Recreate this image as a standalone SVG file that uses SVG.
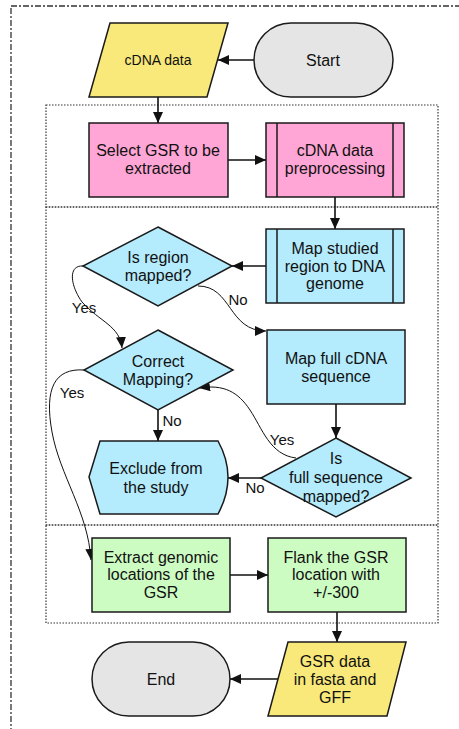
<svg xmlns="http://www.w3.org/2000/svg" width="459" height="729" viewBox="0 0 459 729">
  <style>
    text { font-family: "Liberation Sans", Arial, sans-serif; font-size: 16px; fill: #111; text-anchor: middle; }
    .lbl { font-size: 15px; }
    .shape { stroke: #1a1a1a; stroke-width: 1.5; }
    .term { fill: #e5e5e5; }
    .io { fill: #f9e87a; }
    .pink { fill: #ffa6d6; }
    .blue { fill: #b4ebfd; }
    .green { fill: #cdfcc3; }
    .frame { fill: none; stroke: #333; stroke-width: 1.3; stroke-dasharray: 6 2 2 2; }
    .panel { fill: none; stroke: #333; stroke-width: 1.2; stroke-dasharray: 1.5 1.5; }
    .edge { fill: none; stroke: #111; stroke-width: 1.6; marker-end: url(#arrow); }
    .curve { fill: none; stroke: #111; stroke-width: 1; marker-end: url(#arrow); }
  </style>
  <defs>
    <marker id="arrow" markerUnits="userSpaceOnUse" markerWidth="12" markerHeight="10" refX="11" refY="5" orient="auto">
      <path d="M0,0 L11,5 L0,10 Z" fill="#111"/>
    </marker>
  </defs>

  <rect width="459" height="729" fill="#fff"/>

  <!-- outer frame and panels -->
  <rect class="frame" x="11" y="6" width="470" height="740"/>
  <rect class="panel" x="46" y="105" width="392" height="102"/>
  <rect class="panel" x="46" y="207" width="392" height="318"/>
  <rect class="panel" x="46" y="525" width="392" height="98"/>

  <!-- connectors -->
  <g id="connectors">
    <line class="edge" x1="254" y1="60" x2="218" y2="60"/>
    <line class="edge" x1="158" y1="97" x2="158" y2="123"/>
    <line class="edge" x1="228" y1="160" x2="266" y2="160"/>
    <line class="edge" x1="335" y1="197" x2="335" y2="229"/>
    <line class="edge" x1="266" y1="266" x2="232" y2="266"/>
    <path class="curve" d="M83,266 C68,265 70,285 82,302 C100,322 120,326 122,348"/>
    <path class="curve" d="M198,286 C232,286 228,331 266,331"/>
    <line class="edge" x1="336" y1="404" x2="336" y2="438"/>
    <line class="edge" x1="261" y1="478" x2="228" y2="478"/>
    <path class="curve" d="M296,458 C270,455 262,428 250,410 C238,392 224,384 199,388"/>
    <line class="edge" x1="158" y1="410" x2="158" y2="441"/>
    <path class="curve" d="M84,370 C55,368 44,388 52,432 C60,476 88,512 91,560"/>
    <line class="edge" x1="230" y1="575" x2="268" y2="575"/>
    <line class="edge" x1="337" y1="612" x2="337" y2="642"/>
    <line class="edge" x1="278" y1="679" x2="230" y2="679"/>
    <text class="lbl" x="84" y="313">Yes</text>
    <text class="lbl" x="238" y="305">No</text>
    <text class="lbl" x="72" y="398">Yes</text>
    <text class="lbl" x="172" y="426">No</text>
    <text class="lbl" x="282" y="445">Yes</text>
    <text class="lbl" x="255" y="493">No</text>
  </g>

  <!-- nodes -->
  <g id="start">
    <rect class="shape term" x="254" y="23" width="139" height="74" rx="37" ry="37"/>
    <text x="323" y="66">Start</text>
  </g>
  <g id="cdna-data">
    <polygon class="shape io" points="110,23 228,23 207,97 89,97"/>
    <text x="158" y="65" style="font-size:14px">cDNA data</text>
  </g>
  <g id="select-gsr">
    <rect class="shape pink" x="89" y="123" width="139" height="74"/>
    <text x="158" y="156">Select GSR to be</text>
    <text x="158" y="174">extracted</text>
  </g>
  <g id="preprocessing">
    <rect class="shape pink" x="266" y="123" width="138" height="74"/>
    <line class="shape" x1="277" y1="123" x2="277" y2="197"/>
    <line class="shape" x1="393" y1="123" x2="393" y2="197"/>
    <text x="335" y="156">cDNA data</text>
    <text x="335" y="174">preprocessing</text>
  </g>
  <g id="map-region">
    <rect class="shape blue" x="266" y="229" width="138" height="74"/>
    <line class="shape" x1="277" y1="229" x2="277" y2="303"/>
    <line class="shape" x1="393" y1="229" x2="393" y2="303"/>
    <text x="335" y="254">Map studied</text>
    <text x="335" y="272">region to DNA</text>
    <text x="335" y="289">genome</text>
  </g>
  <g id="is-region-mapped">
    <polygon class="shape blue" points="158,227 232,266 158,306 83,266"/>
    <text x="158" y="263">Is region</text>
    <text x="158" y="281">mapped?</text>
  </g>
  <g id="correct-mapping">
    <polygon class="shape blue" points="158,330 233,370 158,410 84,370"/>
    <text x="158" y="367">Correct</text>
    <text x="158" y="385">Mapping?</text>
  </g>
  <g id="map-full">
    <rect class="shape blue" x="267" y="330" width="138" height="74"/>
    <text x="336" y="364">Map full cDNA</text>
    <text x="336" y="382">sequence</text>
  </g>
  <g id="is-full-mapped">
    <polygon class="shape blue" points="336,438 411,478 336,517 261,478"/>
    <text x="336" y="464">Is</text>
    <text x="336" y="483" textLength="94" lengthAdjust="spacingAndGlyphs">full sequence</text>
    <text x="336" y="502">mapped?</text>
  </g>
  <g id="exclude">
    <path class="shape blue" d="M89,477 L100,441 L218,441 Q238,477 218,514 L100,514 Z"/>
    <text x="156" y="474">Exclude from</text>
    <text x="156" y="493">the study</text>
  </g>
  <g id="extract">
    <rect class="shape green" x="92" y="538" width="138" height="74"/>
    <text x="161" y="563">Extract genomic</text>
    <text x="161" y="580">locations of the</text>
    <text x="161" y="598">GSR</text>
  </g>
  <g id="flank">
    <rect class="shape green" x="268" y="538" width="138" height="74"/>
    <text x="336" y="563">Flank the GSR</text>
    <text x="336" y="580">location with</text>
    <text x="336" y="598">+/-300</text>
  </g>
  <g id="gsr-data">
    <polygon class="shape io" points="288,642 406,642 387,716 268,716"/>
    <text x="335" y="667">GSR data</text>
    <text x="335" y="685">in fasta and</text>
    <text x="335" y="703">GFF</text>
  </g>
  <g id="end">
    <rect class="shape term" x="92" y="642" width="138" height="74" rx="37" ry="37"/>
    <text x="161" y="685">End</text>
  </g>
</svg>
